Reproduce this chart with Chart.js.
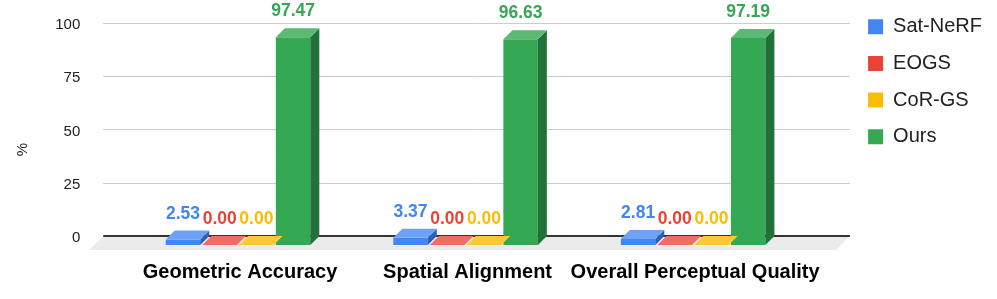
<!DOCTYPE html>
<html><head><meta charset="utf-8">
<script src="https://cdn.jsdelivr.net/npm/chart.js@4/dist/chart.umd.min.js"></script>
<style>html,body{margin:0;padding:0;background:#fff}#wrap{width:997px;height:299px;position:relative}</style>
</head><body><div id="wrap"><canvas id="c"></canvas></div>
<script>
// ---- data ----
const categories = ['Geometric Accuracy', 'Spatial Alignment', 'Overall Perceptual Quality'];
const seriesNames = ['Sat-NeRF', 'EOGS', 'CoR-GS', 'Ours'];
const satNerf = [2.53, 3.37, 2.81];
const eogs = [0.00, 0.00, 0.00];
const corGs = [0.00, 0.00, 0.00];
const ours = [97.47, 96.63, 97.19];
const yTicks = [0, 25, 50, 75, 100];
const yTitle = '%';

// ---- styles ----
const FRONT = ['#4285F4', '#EA4335', '#FBBC04', '#34A853'];
const TOP = ['#6ea2f7', '#ef6d61', '#fcc936', '#5bb974'];
const SIDE = ['#2f5fb3', '#a9302a', '#b58807', '#22703a'];
const FONT = '"Liberation Sans", Arial, Helvetica, sans-serif';
const DEPTH = 9;   // 3D depth of bars
const FLOOR = 14;  // depth of floor

const seriesValues = [satNerf, eogs, corGs, ours];

const scene3d = {
  id: 'scene3d',
  beforeDatasetsDraw(chart) {
    const {ctx, chartArea: ca, scales: {y}} = chart;
    const gL = ca.left - 21, gR = ca.right + 43;
    const back0 = y.getPixelForValue(0) - DEPTH;
    ctx.save();
    ctx.fillStyle = '#ebebeb';
    ctx.beginPath();
    ctx.moveTo(gL, back0);
    ctx.lineTo(gR, back0);
    ctx.lineTo(gR - FLOOR, back0 + FLOOR);
    ctx.lineTo(gL - FLOOR, back0 + FLOOR);
    ctx.closePath();
    ctx.fill();
    yTicks.forEach(v => {
      const py = y.getPixelForValue(v) - DEPTH;
      ctx.beginPath();
      if (v === 0) {
        ctx.strokeStyle = '#333333';
        ctx.lineWidth = 2;
        ctx.moveTo(gL, Math.round(py));
        ctx.lineTo(gR, Math.round(py));
      } else {
        ctx.strokeStyle = '#cccccc';
        ctx.lineWidth = 1;
        ctx.moveTo(gL, Math.round(py) + 0.5);
        ctx.lineTo(gR, Math.round(py) + 0.5);
      }
      ctx.stroke();
    });
    // axis title
    ctx.fillStyle = '#222';
    ctx.font = '15px ' + FONT;
    ctx.textAlign = 'center';
    ctx.textBaseline = 'middle';
    ctx.translate(chart.scales.y.left + 23, (ca.top + ca.bottom) / 2 + 27);
    ctx.rotate(-Math.PI / 2);
    ctx.fillText(yTitle, 0, 0);
    ctx.restore();
  },
  afterDatasetsDraw(chart) {
    const {ctx} = chart;
    ctx.save();
    chart.data.datasets.forEach((ds, di) => {
      const meta = chart.getDatasetMeta(di);
      meta.data.forEach((el, i) => {
        const l = el.x - el.width / 2, r = el.x + el.width / 2;
        const t = el.y, b = el.base;
        ctx.fillStyle = SIDE[di];
        ctx.beginPath();
        ctx.moveTo(r, t); ctx.lineTo(r + DEPTH, t - DEPTH);
        ctx.lineTo(r + DEPTH, b - DEPTH); ctx.lineTo(r, b);
        ctx.closePath(); ctx.fill();
        ctx.fillStyle = TOP[di];
        ctx.beginPath();
        ctx.moveTo(l, t); ctx.lineTo(r, t);
        ctx.lineTo(r + DEPTH, t - DEPTH); ctx.lineTo(l + DEPTH, t - DEPTH);
        ctx.closePath(); ctx.fill();
      });
    });
    chart.data.datasets.forEach((ds, di) => {
      const meta = chart.getDatasetMeta(di);
      meta.data.forEach((el, i) => {
        ctx.fillStyle = FRONT[di];
        ctx.font = 'bold 17.5px ' + FONT;
        ctx.textAlign = 'center';
        ctx.textBaseline = 'alphabetic';
        ctx.fillText(ds.data[i].toFixed(2), el.x, el.y - DEPTH - 12);
      });
    });
    ctx.restore();
  }
};

new Chart(document.getElementById('c'), {
  type: 'bar',
  data: {
    labels: categories,
    datasets: seriesNames.map((n, i) => ({
      label: n,
      data: seriesValues[i],
      backgroundColor: FRONT[i],
      borderWidth: 0,
      categoryPercentage: 0.645,
      barPercentage: 0.94
    }))
  },
  options: {
    responsive: true,
    maintainAspectRatio: false,
    devicePixelRatio: 1,
    animation: false,
    layout: {padding: {top: 0, right: 5, bottom: 15, left: 0}},
    plugins: {
      tooltip: {enabled: false},
      legend: {
        position: 'right',
        align: 'start',
        labels: {
          boxWidth: 15, boxHeight: 15, padding: 16.7,
          color: '#222', font: {family: FONT, size: 20}
        }
      }
    },
    scales: {
      x: {
        grid: {display: false, drawTicks: false},
        border: {display: false},
        ticks: {color: '#000', padding: 15, labelOffset: 2, maxRotation: 0, autoSkip: false,
                font: {family: FONT, size: 20, weight: 'bold'}},
        afterFit(s) { s.height = 39; s.paddingLeft = 0; s.paddingRight = 0; }
      },
      y: {
        min: 0, max: 115,
        grid: {display: false, drawTicks: false},
        border: {display: false},
        ticks: {color: '#222', padding: 44, labelOffset: -7, font: {family: FONT, size: 15}},
        afterBuildTicks(s) { s.ticks = yTicks.map(v => ({value: v})); },
        afterFit(s) { s.width = 124.25; s.paddingTop = 0; s.paddingBottom = 0; }
      },
      pad: {
        position: 'right', type: 'linear', display: true,
        grid: {display: false, drawTicks: false},
        border: {display: false},
        ticks: {display: false},
        afterFit(s) { s.width = 44.5; }
      }
    }
  },
  plugins: [scene3d]
});
</script>
</body></html>
